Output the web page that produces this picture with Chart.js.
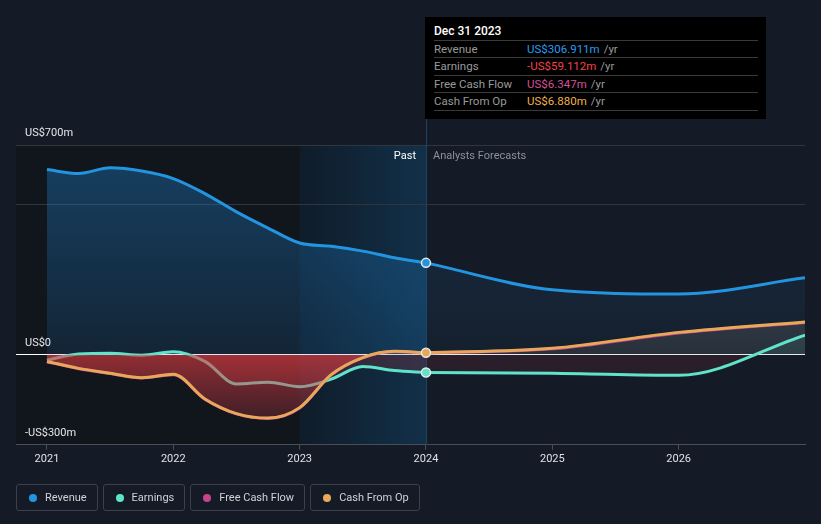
<!DOCTYPE html>
<html>
<head>
<meta charset="utf-8">
<script src="https://cdn.jsdelivr.net/npm/chart.js@4"></script>
<style>
  html, body { margin: 0; padding: 0; background: #151b26; }
  #wrap { position: relative; width: 821px; height: 524px; overflow: hidden; font-family: Roboto, "Noto Sans", sans-serif; }
  #chart { position: absolute; left: 0; top: 0; }
  #tip { position: absolute; left: 425px; top: 17px; width: 341px; height: 102px; background: #000; box-sizing: border-box; padding: 6px 8px 0 9px; }
  #tip .title { color: #fff; font-size: 12px; font-weight: 500; height: 17px; line-height: 16px; border-bottom: 1px solid #3a3a3a; }
  #tip .row { height: 16.4px; line-height: 16.4px; font-size: 11.5px; border-bottom: 1px solid #3a3a3a; display: flex; }
  #tip .row .lab { width: 93px; color: #9a9a9a; }
  #tip .row .unit { color: #9a9a9a; margin-left: 4px; }
  #legend { position: absolute; left: 16px; top: 484px; display: flex; gap: 5px; }
  #legend .item { height: 25px; border: 1px solid #3b4049; border-radius: 3px; display: flex; align-items: center; padding: 0 10px 0 12px; color: #cfd2d6; font-size: 11px; }
  #legend .dot { width: 8px; height: 8px; border-radius: 50%; margin-right: 8px; }
</style>
</head>
<body>
<div id="wrap">
  <canvas id="chart" width="821" height="524"></canvas>
  <div id="tip"></div>
  <div id="legend"></div>
</div>
<script>
// decimal years, Dec 31 2023 sits at 2024.0
const pastDates = [2021, 2021.25, 2021.5, 2021.75, 2022, 2022.25, 2022.5, 2022.75, 2023, 2023.25, 2023.5, 2023.75, 2024];
const revenuePast = [618, 605, 624, 613, 588, 538, 477, 423, 373, 362, 346, 324, 306.911];
const earningsPast = [-18, 3, 5, -1, 10, -22, -97, -91, -106, -81, -39, -52, -59.112];
const fcfPast = [-23, -46, -62, -77, -66, -148, -197, -212, -177, -67, -10, 11, 6.347];
const cfoPast = [-22, -45, -61, -76, -65, -147, -196, -211, -176, -66, -9, 12, 6.88];

const forecastDates = [2024, 2025, 2026, 2027];
const revenueFcst = [306.911, 217, 203, 257];
const earningsFcst = [-59.112, -61, -68, 66];
const fcfFcst = [6.347, 20, 73, 108];
const cfoFcst = [6.88, 22, 75, 110];

const tickYears = [2021, 2022, 2023, 2024, 2025, 2026];
const yLabels = [[700, 'US$700m'], [0, 'US$0'], [-300, '-US$300m']];
const gridValues = [-300, 0, 500, 700];

const colors = { revenue: '#2394df', earnings: '#5fe3cb', fcf: '#c8438b', cfo: '#e8a85a' };
const bg = '#151b26';

const pts = (xs, ys) => xs.map((x, i) => ({ x, y: ys[i] }));

function vGradient(ctx, stops) {
  const chart = ctx.chart;
  const area = chart.chartArea;
  if (!area) return 'transparent';
  const y = chart.scales.y;
  const g = chart.ctx.createLinearGradient(0, area.top, 0, area.bottom);
  stops.forEach(([v, c]) => {
    const p = (y.getPixelForValue(v) - area.top) / (area.bottom - area.top);
    g.addColorStop(Math.min(1, Math.max(0, p)), c);
  });
  return g;
}

const lastDot = (n) => (c) => (c.dataIndex === n - 1 ? 4.5 : 0);

function line(label, data, color, extra) {
  return Object.assign({
    label, data, borderColor: color, borderWidth: 3,
    pointRadius: 0, pointHoverRadius: 0, pointBackgroundColor: color,
    pointBorderColor: '#e8e8e8', pointBorderWidth: 1.5,
    cubicInterpolationMode: 'monotone', fill: false,
  }, extra);
}

const n = pastDates.length;
// dataset 0 is drawn last (on top)
const datasets = [
  line('Cash From Op', pts(pastDates, cfoPast), colors.cfo, { pointRadius: lastDot(n) }),
  line('Free Cash Flow', pts(pastDates, fcfPast), colors.fcf, {
    fill: 'origin',
    backgroundColor: (c) => vGradient(c, [[100, 'rgba(130,130,120,0.25)'], [0.01, 'rgba(130,130,120,0.25)'], [0, 'rgba(225,60,65,0.62)'], [-220, 'rgba(205,60,70,0.24)']]),
  }),
  line('Earnings', pts(pastDates, earningsPast), colors.earnings, {
    pointRadius: lastDot(n), fill: 'origin',
    backgroundColor: (c) => vGradient(c, [[100, 'rgba(0,0,0,0)'], [0.01, 'rgba(0,0,0,0)'], [0, 'rgba(215,60,70,0.2)'], [-150, 'rgba(215,60,70,0.12)']]),
  }),
  line('Cash From Op F', pts(forecastDates, cfoFcst), colors.cfo),
  line('Earnings F', pts(forecastDates, earningsFcst), colors.earnings, {
    fill: 'origin',
    backgroundColor: (c) => vGradient(c, [[100, 'rgba(95,227,203,0.08)'], [0.01, 'rgba(95,227,203,0.08)'], [0, 'rgba(200,60,70,0.12)'], [-80, 'rgba(200,60,70,0.1)']]),
  }),
  line('Free Cash Flow F', pts(forecastDates, fcfFcst), colors.fcf, {
    fill: 'origin',
    backgroundColor: (c) => vGradient(c, [[120, 'rgba(135,135,125,0.22)'], [0, 'rgba(135,135,125,0.16)']]),
  }),
  line('Revenue', pts(pastDates, revenuePast), colors.revenue, {
    pointRadius: lastDot(n), fill: 'origin',
    backgroundColor: (c) => vGradient(c, [[650, 'rgba(30,120,190,0.42)'], [0, 'rgba(30,120,190,0.16)']]),
  }),
  line('Revenue F', pts(forecastDates, revenueFcst), colors.revenue, {
    fill: 'origin',
    backgroundColor: (c) => vGradient(c, [[300, 'rgba(30,120,190,0.12)'], [0, 'rgba(30,120,190,0.05)']]),
  }),
];

const backdrop = {
  id: 'backdrop',
  beforeDraw(chart) {
    const { ctx, chartArea: a, scales: { x } } = chart;
    ctx.save();
    ctx.fillStyle = bg;
    ctx.fillRect(0, 0, chart.width, chart.height);
    const x23 = x.getPixelForValue(2023), x24 = x.getPixelForValue(2024);
    ctx.fillStyle = '#11151c';
    ctx.fillRect(a.left, a.top, x23 - a.left, a.bottom - a.top);
    const g = ctx.createLinearGradient(x23, 0, x24, 0);
    g.addColorStop(0, '#0f1c29');
    g.addColorStop(1, '#123049');
    ctx.fillStyle = g;
    ctx.fillRect(x23, a.top, x24 - x23, a.bottom - a.top);
    ctx.restore();
  },
  beforeDatasetsDraw(chart) {
    const { ctx, chartArea: a, scales: { x } } = chart;
    const x24 = Math.round(x.getPixelForValue(2024)) + 0.5;
    ctx.save();
    ctx.strokeStyle = '#1d4262';
    ctx.lineWidth = 1;
    ctx.beginPath();
    ctx.moveTo(x24, 119);
    ctx.lineTo(x24, a.bottom);
    ctx.stroke();
    ctx.restore();
  },
  afterDraw(chart) {
    const { ctx, chartArea: a, scales: { x, y } } = chart;
    ctx.save();
    ctx.font = '11px Roboto, "Noto Sans", sans-serif';
    ctx.textBaseline = 'middle';
    ctx.fillStyle = '#e4e6e8';
    yLabels.forEach(([v, t]) => ctx.fillText(t, a.left + 9, y.getPixelForValue(v) - 12));
    const x24 = x.getPixelForValue(2024);
    ctx.textAlign = 'right';
    ctx.fillStyle = '#ffffff';
    ctx.fillText('Past', x24 - 10, a.top + 11);
    ctx.textAlign = 'left';
    ctx.fillStyle = '#8b9099';
    ctx.fillText('Analysts Forecasts', x24 + 7, a.top + 11);
    ctx.restore();
  },
};

new Chart(document.getElementById('chart'), {
  type: 'line',
  data: { datasets },
  plugins: [backdrop],
  options: {
    responsive: false, animation: false,
    layout: { padding: { left: 16, right: 16, top: 145, bottom: 55 } },
    plugins: { legend: { display: false }, tooltip: { enabled: false }, filler: { drawTime: 'beforeDatasetDraw' } },
    scales: {
      x: {
        type: 'linear', min: 2020.755, max: 2027,
        afterBuildTicks: (s) => { s.ticks = tickYears.map((v) => ({ value: v })); },
        ticks: { color: '#dfe1e4', font: { size: 11, family: 'Roboto' }, padding: 3, callback: (v) => String(v), maxRotation: 0 },
        grid: { drawOnChartArea: false, drawTicks: true, tickLength: 5, color: '#4a4f57' },
        border: { color: '#4a4f57' },
      },
      y: {
        min: -300, max: 700,
        afterBuildTicks: (s) => { s.ticks = gridValues.map((v) => ({ value: v })); },
        ticks: { display: false },
        grid: { drawTicks: false, color: (c) => (c.tick.value === 0 ? '#ffffff' : c.tick.value === -300 ? '#4a4f57' : '#30363f') },
        border: { display: false },
      },
    },
  },
});

// tooltip box
const fmt = (v) => (v < 0 ? '-' : '') + 'US$' + Math.abs(v).toFixed(3) + 'm';
const tipRows = [
  ['Revenue', revenuePast[n - 1], '#2a9cf0'],
  ['Earnings', earningsPast[n - 1], '#f2434a'],
  ['Free Cash Flow', fcfPast[n - 1], '#d64f98'],
  ['Cash From Op', cfoPast[n - 1], '#f0b050'],
];
const tip = document.getElementById('tip');
tip.innerHTML = '<div class="title">Dec 31 2023</div>' + tipRows.map(([l, v, c]) =>
  `<div class="row"><span class="lab">${l}</span><span style="color:${c}">${fmt(v)}</span><span class="unit">/yr</span></div>`).join('');

const legendItems = [['Revenue', colors.revenue], ['Earnings', colors.earnings], ['Free Cash Flow', colors.fcf], ['Cash From Op', colors.cfo]];
document.getElementById('legend').innerHTML = legendItems.map(([l, c]) =>
  `<div class="item"><span class="dot" style="background:${c}"></span>${l}</div>`).join('');
</script>
</body>
</html>
